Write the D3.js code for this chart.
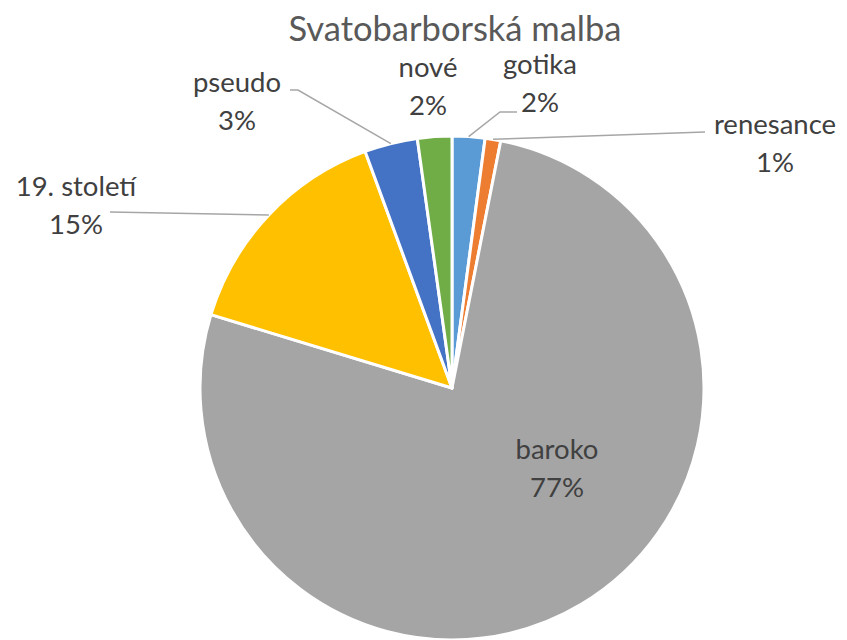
<!DOCTYPE html>
<html><head><meta charset="utf-8">
<script src="https://cdn.jsdelivr.net/npm/d3@7"></script>
<style>body{margin:0;background:#fff}</style>
</head><body>
<svg id="c" width="847" height="640"></svg>
<script>
const categories = ["gotika","renesance","baroko","19. století","pseudo","nové"];
const values = [2.1, 1.0, 76.6, 14.7, 3.4, 2.2];
const colors = ["#5B9BD5","#ED7D31","#A5A5A5","#FFC000","#4472C4","#70AD47"];
const title = "Svatobarborská malba";

// layout for labels (x center, first baseline) and leader elbow points
const labelLayout = {
  "gotika":      {x:540, y:74,  line:[[517,112],[500,112]]},
  "renesance":   {x:775, y:134, line:[[705,132]]},
  "baroko":      {x:557, y:459, line:null},
  "19. století": {x:76,  y:196, line:[[110,212]]},
  "pseudo":      {x:237, y:92,  line:[[290,90],[298,90]]},
  "nové":        {x:428, y:77,  line:null}
};

const svg = d3.select("#c");
const cx = 452, cy = 388, r = 252;
const font = "Lato, 'Open Sans', sans-serif";

svg.append("text").attr("x",455).attr("y",41).attr("text-anchor","middle")
  .attr("font-family",font).attr("font-size",34.5).attr("fill","#595959").text(title);

const data = categories.map((c,i)=>({name:c, value:values[i], color:colors[i]}));
const total = d3.sum(values);
const pie = d3.pie().value(d=>d.value).sort(null);
const arcs = pie(data);
const arc = d3.arc().innerRadius(0).outerRadius(r);

const g = svg.append("g").attr("transform",`translate(${cx},${cy})`);
g.selectAll("path").data(arcs).enter().append("path")
  .attr("d",arc).attr("fill",d=>d.data.color)
  .attr("stroke","#fff").attr("stroke-width",3).attr("stroke-linejoin","round");

// leader lines
arcs.forEach(a=>{
  const L = labelLayout[a.data.name];
  if(!L.line) return;
  const m = (a.startAngle+a.endAngle)/2;
  const p0 = [cx + r*Math.sin(m), cy - r*Math.cos(m)];
  const pts = [p0].concat(L.line.slice().reverse());
  svg.append("path").attr("d", d3.line()(pts)).attr("fill","none")
    .attr("stroke","#A6A6A6").attr("stroke-width",1.5);
});

// labels
arcs.forEach(a=>{
  const L = labelLayout[a.data.name];
  const t = svg.append("text").attr("text-anchor","middle")
    .attr("font-family",font).attr("font-size",27.5).attr("fill","#404040");
  t.append("tspan").attr("x",L.x).attr("y",L.y).text(a.data.name);
  t.append("tspan").attr("x",L.x).attr("y",L.y+38)
    .text(Math.round(a.data.value/total*100)+"%");
});
</script>
</body></html>
